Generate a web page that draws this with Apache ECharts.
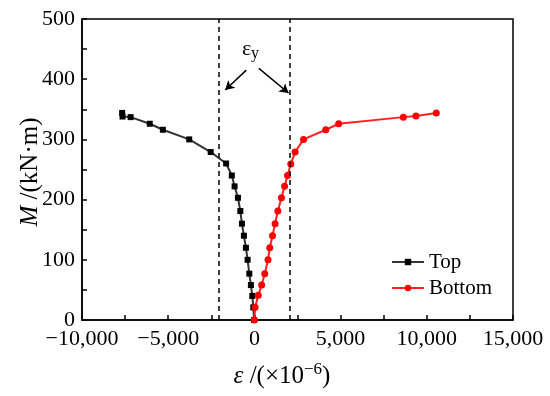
<!DOCTYPE html>
<html>
<head>
<meta charset="utf-8">
<script src="https://cdn.jsdelivr.net/npm/echarts@6/dist/echarts.min.js"></script>
<style>html,body{margin:0;padding:0;background:#fff;}#c{width:550px;height:396px;}</style>
</head>
<body>
<div id="c"></div>
<script>
// Top strain gauge (strain ×10^-6, moment kN·m)
var topStrain = [-7670, -7650, -7180, -6070, -5310, -3780, -2535, -1640, -1310, -1150, -955, -816, -723, -608, -492, -394, -295, -203, -122, -64, -20];
var topMoment = [344, 338, 337, 326, 316, 300, 279, 260, 240, 222, 203, 181, 160, 140, 120, 100, 77, 58, 40, 21, 0];
// Bottom strain gauge
var bottomStrain = [0, 40, 225, 420, 600, 790, 890, 1050, 1200, 1360, 1570, 1750, 1920, 2110, 2360, 2850, 4140, 4890, 8640, 9370, 10550];
var bottomMoment = [0, 21, 41, 58, 77, 100, 120, 140, 160, 181, 203, 222, 240, 259, 279, 300, 316, 326, 337, 339, 344];
// Yield strain markers
var yieldStrain = [-2060, 2060];
var seriesNames = ['Top', 'Bottom'];

var FONT = '"Liberation Serif", "Times New Roman", serif';
function pairs(xs, ys) { return xs.map(function (x, i) { return [x, ys[i]]; }); }

var chart = echarts.init(document.getElementById('c'), null, { renderer: 'canvas' });
chart.setOption({
  animation: false,
  backgroundColor: '#fff',
  grid: { left: 82, right: 37, top: 19, bottom: 76, show: true, borderColor: '#000', borderWidth: 1.5, backgroundColor: 'transparent' },
  legend: {
    orient: 'vertical', left: 386, top: 245, itemWidth: 32, itemHeight: 8, itemGap: 2,
    textStyle: { fontFamily: FONT, fontSize: 21, color: '#000', lineHeight: 24 },
    data: seriesNames
  },
  xAxis: {
    type: 'value', min: -10000, max: 15000, interval: 5000,
    axisLine: { show: true, onZero: false, lineStyle: { color: '#000', width: 1.5 } },
    axisTick: { show: true, inside: true, length: 5, lineStyle: { color: '#000', width: 1.5 } },
    minorTick: { show: true, splitNumber: 2, length: 5, lineStyle: { color: '#000', width: 1.5 } },
    splitLine: { show: false },
    axisLabel: {
      fontFamily: FONT, fontSize: 22, color: '#000', margin: 8,
      formatter: function (v) { return (v < 0 ? '\u2212' : '') + Math.abs(v).toLocaleString('en-US'); }
    }
  },
  yAxis: {
    type: 'value', min: 0, max: 500, interval: 100,
    axisLine: { show: true, onZero: false, lineStyle: { color: '#000', width: 1.5 } },
    axisTick: { show: true, inside: true, length: 5, lineStyle: { color: '#000', width: 1.5 } },
    minorTick: { show: true, splitNumber: 2, length: 5, lineStyle: { color: '#000', width: 1.5 } },
    splitLine: { show: false },
    axisLabel: { fontFamily: FONT, fontSize: 22, color: '#000', margin: 7 }
  },
  series: [
    {
      name: seriesNames[0], type: 'line', data: pairs(topStrain, topMoment),
      symbol: 'rect', symbolSize: 6,
      lineStyle: { color: '#333', width: 2 }, itemStyle: { color: '#000' },
      emphasis: { disabled: true },
      markLine: {
        silent: true, symbol: 'none', label: { show: false },
        lineStyle: { color: '#000', type: [5, 4], width: 1.5 },
        data: [{ xAxis: yieldStrain[0] }, { xAxis: yieldStrain[1] }]
      },
      z: 3
    },
    {
      name: seriesNames[1], type: 'line', data: pairs(bottomStrain, bottomMoment),
      symbol: 'circle', symbolSize: 7,
      lineStyle: { color: '#ff2020', width: 2 }, itemStyle: { color: '#ff0000' },
      emphasis: { disabled: true },
      markLine: {
        silent: true, symbol: ['none', 'arrow'], symbolSize: [8, 9], label: { show: false },
        lineStyle: { color: '#000', type: 'solid', width: 1.5 },
        data: [
          [{ coord: [-470, 415], lineStyle: { curveness: 0.25 } }, { coord: [-1690, 382] }],
          [{ coord: [260, 418], lineStyle: { curveness: -0.25 } }, { coord: [1980, 377] }]
        ]
      },
      z: 4
    }
  ],
  graphic: [
    {
      type: 'text', x: 30, y: 172, rotation: Math.PI / 2,
      style: {
        text: '{i|M} /(kN·m)', fontFamily: FONT, fontSize: 25, fill: '#000',
        align: 'center', verticalAlign: 'middle',
        rich: { i: { fontFamily: FONT, fontSize: 25, fontStyle: 'italic', fill: '#000' } }
      }
    },
    {
      type: 'text', x: 282, y: 376,
      style: {
        text: '{i|ε} /(×10{s|−6})', fontFamily: FONT, fontSize: 25, fill: '#000',
        align: 'center', verticalAlign: 'middle',
        rich: {
          i: { fontFamily: FONT, fontSize: 25, fontStyle: 'italic', fill: '#000' },
          s: { fontFamily: FONT, fontSize: 17, fill: '#000', verticalAlign: 'top', padding: [0, 0, 12, 0] }
        }
      }
    },
    {
      type: 'text', left: 242, top: 38,
      style: { text: 'ε', fontFamily: FONT, fontSize: 22, fill: '#000' }
    },
    {
      type: 'text', left: 251, top: 46,
      style: { text: 'y', fontFamily: FONT, fontSize: 16, fill: '#000' }
    }
  ]
});
</script>
</body>
</html>
